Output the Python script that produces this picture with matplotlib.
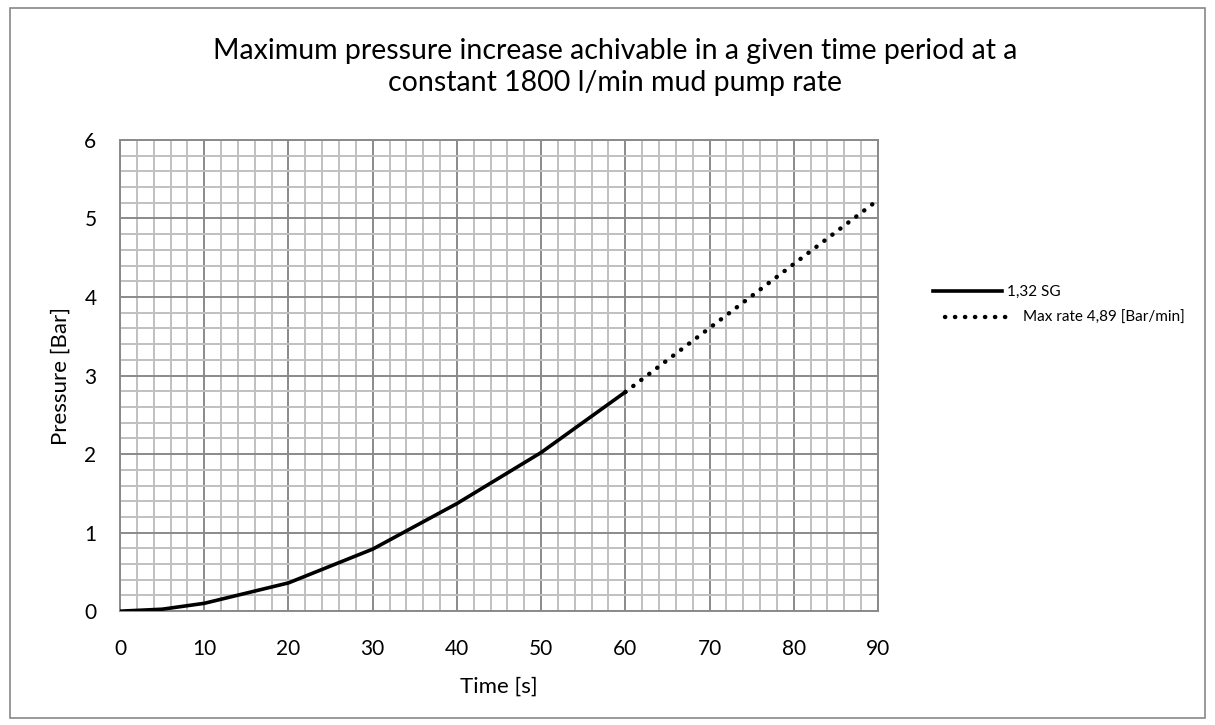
import matplotlib
matplotlib.use("Agg")
import matplotlib.pyplot as plt
from matplotlib.patches import Rectangle
from matplotlib.ticker import MultipleLocator

plt.rcParams['font.family'] = ['Lato', 'DejaVu Sans']

time_s = [0, 5, 10, 20, 30, 40, 50, 60]
pressure_sg = [0.0, 0.025, 0.10, 0.36, 0.79, 1.37, 2.02, 2.79]
rate_time = [60, 90]
rate_pressure = [2.79, 5.235]

title = "Maximum pressure increase achivable in a given time period at a\nconstant 1800 l/min mud pump rate"
label_solid = "1,32 SG"
label_dotted = "Max rate 4,89 [Bar/min]"

fig = plt.figure(figsize=(12.15, 7.25), dpi=100)
fig.patches.append(Rectangle((0.008, 0.01), 0.984, 0.979, transform=fig.transFigure,
                             fill=False, edgecolor='#888888', linewidth=1.2))
ax = fig.add_axes([0.0988, 0.157, 0.6238, 0.650])

h1, = ax.plot(time_s, pressure_sg, color='black', lw=2.6, solid_joinstyle='round',
              label=label_solid, zorder=3)
h2, = ax.plot(rate_time, rate_pressure, color='black', lw=3.2, linestyle=(0, (0.05, 2.2)),
              dash_capstyle='round', label=label_dotted, zorder=3)

ax.set_xlim(0, 90)
ax.set_ylim(0, 6)
ax.xaxis.set_major_locator(MultipleLocator(10))
ax.xaxis.set_minor_locator(MultipleLocator(2))
ax.yaxis.set_major_locator(MultipleLocator(1))
ax.yaxis.set_minor_locator(MultipleLocator(0.2))
ax.grid(which='minor', color='#c0c0c0', lw=1.4, zorder=0)
ax.grid(which='major', color='#8a8a8a', lw=1.4, zorder=1)
ax.set_axisbelow(True)
ax.tick_params(which='both', length=0, labelsize=15, colors='black')
ax.tick_params(axis='x', pad=20)
ax.tick_params(axis='y', pad=17)
for s in ax.spines.values():
    s.set_color('#8a8a8a')
    s.set_linewidth(1.4)

ax.set_xlabel("Time [s]", fontsize=16, labelpad=13)
ax.set_ylabel("Pressure [Bar]", fontsize=16, labelpad=10)
fig.text(0.506, 0.9075, title, ha='center', va='center', fontsize=20.5, linespacing=1.3)

leg1 = fig.legend(handles=[h1], loc='center left', bbox_to_anchor=(0.7677, 0.597), frameon=False,
                  fontsize=11, handlelength=4.5, handletextpad=0.35, borderaxespad=0, borderpad=0)
leg2 = fig.legend(handles=[h2], loc='center left', bbox_to_anchor=(0.7775, 0.561), frameon=False,
                  fontsize=11, handlelength=4.5, handletextpad=0.6, borderaxespad=0, borderpad=0)

fig.savefig("out.png", dpi=100)
